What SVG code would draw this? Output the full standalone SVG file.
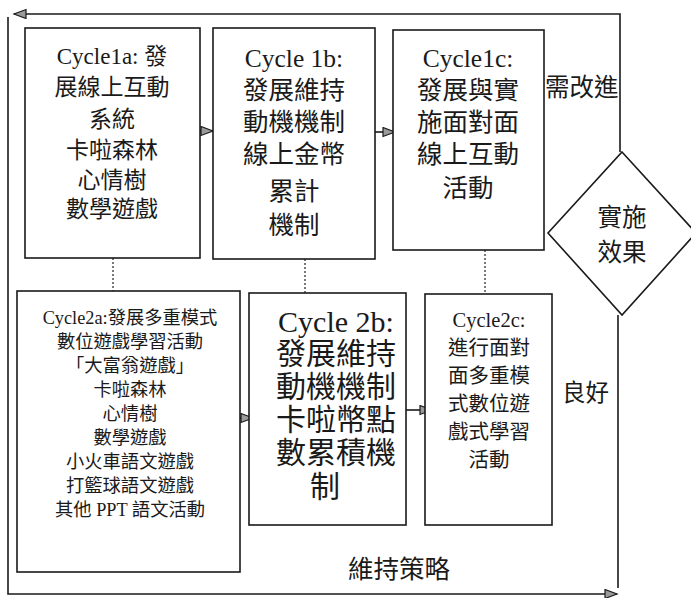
<svg xmlns="http://www.w3.org/2000/svg" width="691" height="598" viewBox="0 0 691 598">
<defs>
<style>
.box{fill:#fff;stroke:#1a1a1a;stroke-width:1.6}
.ln{fill:none;stroke:#1a1a1a;stroke-width:1.6}
.dot{fill:none;stroke:#333;stroke-width:1.3;stroke-dasharray:2,2}
text{font-family:"Liberation Serif","Noto Sans CJK TC",serif;fill:#1a1a1a;text-anchor:middle}
.l{text-anchor:start}
</style>
<marker id="ah" markerUnits="userSpaceOnUse" markerWidth="16" markerHeight="12" refX="13" refY="5" orient="auto">
<path d="M1,0.5 L13,5 L1,9.5 Z" fill="#9a9a9a" stroke="#1a1a1a" stroke-width="1.2"/>
</marker>
</defs>
<rect width="691" height="598" fill="#fff"/>

<g id="connectors">
<path class="ln" d="M620,152 V14 H14" marker-end="url(#ah)"/>
<path class="ln" d="M8,17 V594 H617" marker-end="url(#ah)"/>
<path class="ln" d="M618,315 V588"/>
<path class="ln" d="M200,131 H213" marker-end="url(#ah)"/>
<path class="ln" d="M375,132 H395" marker-end="url(#ah)"/>
<path class="ln" d="M227,418 H253" marker-end="url(#ah)"/>
<path class="ln" d="M404,410 H432" marker-end="url(#ah)"/>
<path class="dot" d="M113,258 V292"/>
<path class="dot" d="M305,259 V293"/>
<path class="dot" d="M485,250 V294"/>
</g>

<g id="cycle1a">
<rect class="box" x="25" y="28" width="175" height="230"/>
<g font-size="23">
<text x="112" y="64">Cycle1a: 發</text>
<text x="112" y="95">展線上互動</text>
<text x="112" y="127">系統</text>
<text x="112" y="158">卡啦森林</text>
<text x="112" y="188">心情樹</text>
<text x="112" y="217">數學遊戲</text>
</g>
</g>

<g id="cycle1b">
<rect class="box" x="213" y="28" width="162" height="231"/>
<g font-size="25.5">
<text x="294" y="67">Cycle 1b:</text>
<text x="294" y="99">發展維持</text>
<text x="294" y="131">動機機制</text>
<text x="294" y="163">線上金幣</text>
<text x="294" y="200">累計</text>
<text x="294" y="234">機制</text>
</g>
</g>

<g id="cycle1c">
<rect class="box" x="393" y="30" width="151" height="220"/>
<g font-size="25.5">
<text x="468" y="67">Cycle1c:</text>
<text x="468" y="99">發展與實</text>
<text x="468" y="131">施面對面</text>
<text x="468" y="163">線上互動</text>
<text x="468" y="197">活動</text>
</g>
</g>

<g id="cycle2a">
<rect class="box" x="17" y="291" width="223" height="281"/>
<g font-size="18.3">
<text x="130" y="324">Cycle2a:發展多重模式</text>
<text x="130" y="348">數位遊戲學習活動</text>
<text x="130" y="372">「大富翁遊戲」</text>
<text x="130" y="396">卡啦森林</text>
<text x="130" y="420">心情樹</text>
<text x="130" y="444">數學遊戲</text>
<text x="130" y="468">小火車語文遊戲</text>
<text x="130" y="492">打籃球語文遊戲</text>
<text x="130" y="516">其他 PPT 語文活動</text>
</g>
</g>

<g id="cycle2b">
<rect class="box" x="249" y="293" width="157" height="232"/>
<g font-size="30">
<text x="336" y="332">Cycle 2b:</text>
<text x="336" y="364">發展維持</text>
<text x="336" y="397">動機機制</text>
<text x="336" y="430">卡啦幣點</text>
<text x="336" y="463">數累積機</text>
<text x="325" y="497">制</text>
</g>
</g>

<g id="cycle2c">
<rect class="box" x="425" y="294" width="127" height="231"/>
<g font-size="20.5">
<text x="489" y="327">Cycle2c:</text>
<text x="489" y="355">進行面對</text>
<text x="489" y="383">面多重模</text>
<text x="489" y="411">式數位遊</text>
<text x="489" y="439">戲式學習</text>
<text x="489" y="467">活動</text>
</g>
</g>

<g id="decision">
<polygon class="box" points="622,152 696,233 622,315 548,233"/>
<g font-size="24.5">
<text x="622" y="226">實施</text>
<text x="622" y="261">效果</text>
</g>
</g>

<g id="labels">
<text class="l" x="545" y="96" font-size="24.5">需改進</text>
<text class="l" x="562" y="401" font-size="23.5">良好</text>
<text class="l" x="348" y="578" font-size="25.5">維持策略</text>
</g>
</svg>
